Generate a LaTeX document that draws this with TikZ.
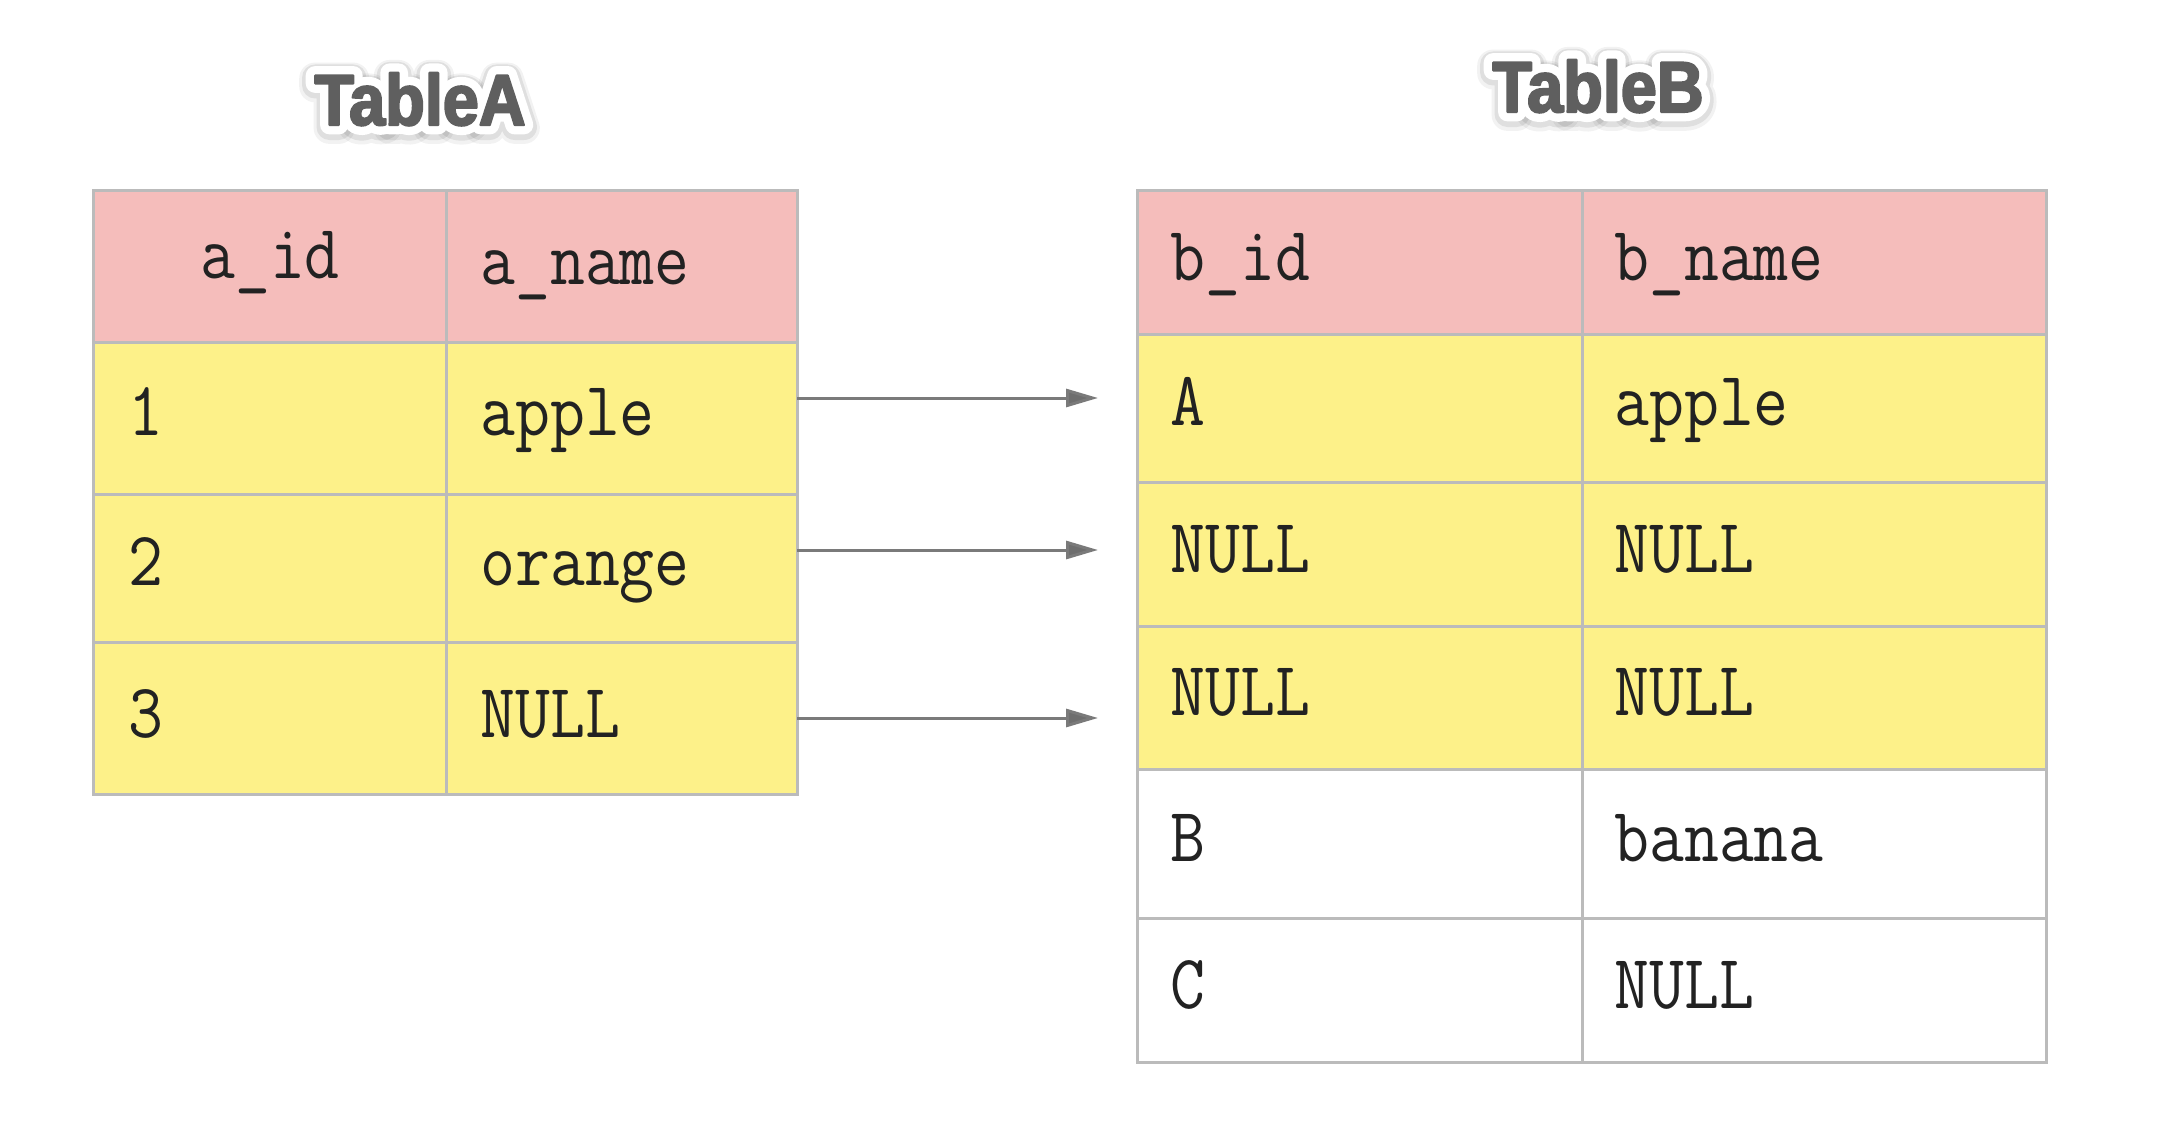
\documentclass[tikz,border=0pt]{standalone}
\usepackage{fontspec}
\usetikzlibrary{arrows.meta,fit}
\setmonofont{Latin Modern Mono}[FakeStretch=0.88]
\newfontfamily\titlefont{Liberation Sans}[FakeStretch=0.9, BoldFeatures={FakeBold=3}]
\newfontfamily\titlehalo{Liberation Sans}[FakeStretch=0.9, BoldFeatures={FakeBold=26}]
\newfontfamily\titleshadow{Liberation Sans}[FakeStretch=0.9, BoldFeatures={FakeBold=36}]
\newfontfamily\titleshadowb{Liberation Sans}[FakeStretch=0.9, BoldFeatures={FakeBold=44}]
\definecolor{hdr}{HTML}{F5BDBB}
\definecolor{rowy}{HTML}{FDF189}
\definecolor{gridc}{HTML}{BBBBBB}
\definecolor{txtc}{HTML}{222222}
\definecolor{arrc}{HTML}{7A7A7A}
\definecolor{ttlc}{HTML}{5F5F5F}
\tikzset{
  cell/.style={draw=gridc, line width=1.5pt, inner sep=0pt, outer sep=0pt},
  hcell/.style={cell, fill=hdr},
  ycell/.style={cell, fill=rowy},
  wcell/.style={cell, fill=white},
  ctext/.style={anchor=base west, inner sep=0pt, text=txtc,
    font=\fontsize{38.5}{40}\selectfont\ttfamily},
  ttlbase/.style={anchor=base, inner sep=0pt, line join=round, line cap=round},
  ttl/.style={ttlbase, font=\titlefont\bfseries\fontsize{36}{40}\selectfont},
  ttlhalo/.style={ttlbase, font=\titlehalo\bfseries\fontsize{36}{40}\selectfont},
  ttlshadow/.style={ttlbase, font=\titleshadow\bfseries\fontsize{36}{40}\selectfont},
  ttlshadowb/.style={ttlbase, font=\titleshadowb\bfseries\fontsize{36}{40}\selectfont},
  conn/.style={draw=arrc, line width=1.5pt,
    -{Triangle[length=16pt,width=9pt,fill=arrc!90!black]}},
}
\newcommand\halotitle[4]{% name, x, y, text
  \node[ttlshadowb, text=black, opacity=0.05] at (#2,#3+3) {#4};
  \node[ttlshadow, text=black, opacity=0.08] at (#2,#3+2) {#4};
  \node[ttlhalo, text=white] at (#2,#3) {#4};
  \node[ttl, text=ttlc] (#1) at (#2,#3) {#4};
}
\begin{document}
\begin{tikzpicture}[x=0.5pt,y=-0.5pt]
\useasboundingbox (0,0) rectangle (2160,1140);
\fill[white] (0,0) rectangle (2160,1140);

% titles
\halotitle{titleA}{420}{125}{TableA}
\halotitle{titleB}{1598}{112}{TableB}

% Table A cells
\node[hcell, fit={(93,190)(446,342)}] (a00) {};
\node[hcell, fit={(446,190)(797,342)}] (a01) {};
\node[ycell, fit={(93,342)(446,494)}] (a10) {};
\node[ycell, fit={(446,342)(797,494)}] (a11) {};
\node[ycell, fit={(93,494)(446,642)}] (a20) {};
\node[ycell, fit={(446,494)(797,642)}] (a21) {};
\node[ycell, fit={(93,642)(446,794)}] (a30) {};
\node[ycell, fit={(446,642)(797,794)}] (a31) {};

% Table B cells
\node[hcell, fit={(1137,190)(1582,334)}] (b00) {};
\node[hcell, fit={(1582,190)(2046,334)}] (b01) {};
\node[ycell, fit={(1137,334)(1582,482)}] (b10) {};
\node[ycell, fit={(1582,334)(2046,482)}] (b11) {};
\node[ycell, fit={(1137,482)(1582,626)}] (b20) {};
\node[ycell, fit={(1582,482)(2046,626)}] (b21) {};
\node[ycell, fit={(1137,626)(1582,769)}] (b30) {};
\node[ycell, fit={(1582,626)(2046,769)}] (b31) {};
\node[wcell, fit={(1137,769)(1582,918)}] (b40) {};
\node[wcell, fit={(1582,769)(2046,918)}] (b41) {};
\node[wcell, fit={(1137,918)(1582,1062)}] (b50) {};
\node[wcell, fit={(1582,918)(2046,1062)}] (b51) {};

% Table A texts
\node[ctext, anchor=base] (ta00) at (270,278) {a\_id};
\node[ctext] (ta01) at (480,284) {a\_name};
\node[ctext] (ta10) at (128,435) {1};
\node[ctext] (ta11) at (480,435) {apple};
\node[ctext] (ta20) at (128,585) {2};
\node[ctext] (ta21) at (480,585) {orange};
\node[ctext] (ta30) at (128,737) {3};
\node[ctext] (ta31) at (480,737) {NULL};

% Table B texts
\node[ctext] (tb00) at (1170,280) {b\_id};
\node[ctext] (tb01) at (1614,280) {b\_name};
\node[ctext] (tb10) at (1170,425) {A};
\node[ctext] (tb11) at (1614,425) {apple};
\node[ctext] (tb20) at (1170,572) {NULL};
\node[ctext] (tb21) at (1614,572) {NULL};
\node[ctext] (tb30) at (1170,715) {NULL};
\node[ctext] (tb31) at (1614,715) {NULL};
\node[ctext] (tb40) at (1170,861) {B};
\node[ctext] (tb41) at (1614,861) {banana};
\node[ctext] (tb50) at (1170,1008) {C};
\node[ctext] (tb51) at (1614,1008) {NULL};

% connectors
\coordinate (s1) at (a11.east |- 0,398);
\coordinate (s2) at (a21.east |- 0,550);
\coordinate (s3) at (a31.east |- 0,718);
\coordinate (e1) at (1098,398);
\coordinate (e2) at (1098,550);
\coordinate (e3) at (1098,718);
\draw[conn] (s1) -- (e1);
\draw[conn] (s2) -- (e2);
\draw[conn] (s3) -- (e3);
\end{tikzpicture}
\end{document}
